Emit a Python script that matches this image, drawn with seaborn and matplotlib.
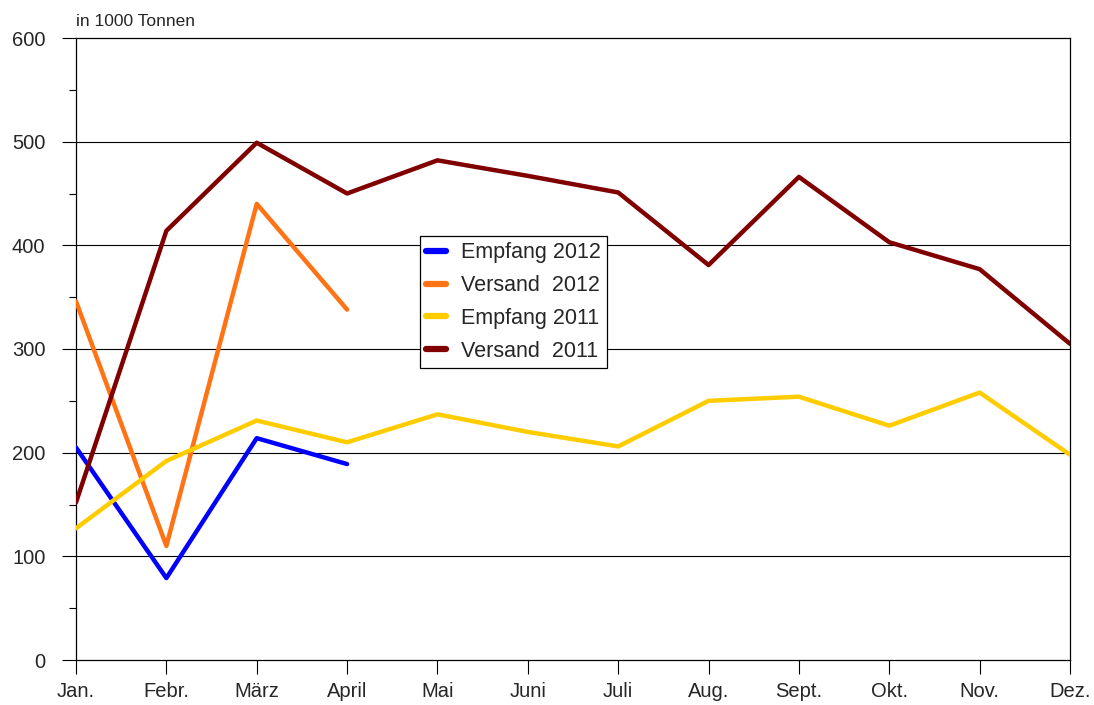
import matplotlib
matplotlib.use("Agg")
import matplotlib.pyplot as plt
import seaborn as sns
import pandas as pd
from matplotlib.ticker import MultipleLocator

months = ["Jan.", "Febr.", "März", "April", "Mai", "Juni", "Juli", "Aug.", "Sept.", "Okt.", "Nov.", "Dez."]
empfang_2012 = [205, 79, 214, 189]
versand_2012 = [346, 110, 440, 338]
empfang_2011 = [127, 192, 231, 210, 237, 220, 206, 250, 254, 226, 258, 198]
versand_2011 = [152, 414, 499, 450, 482, 467, 451, 381, 466, 403, 377, 305]

series_names = ["Empfang 2012", "Versand  2012", "Empfang 2011", "Versand  2011"]
series_vals = [empfang_2012, versand_2012, empfang_2011, versand_2011]
colors = ["#0000FF", "#FF7315", "#FFCC00", "#800000"]

rows = []
for name, vals in zip(series_names, series_vals):
    for i, v in enumerate(vals):
        rows.append({"Serie": name, "pos": i, "Wert": v})
df = pd.DataFrame(rows)

sns.set_style("white")
plt.rcParams["font.family"] = ["Liberation Sans", "DejaVu Sans"]

fig = plt.figure(figsize=(10.94, 7.05), dpi=100)
ax = fig.add_axes([76 / 1094, 45 / 705, 994 / 1094, 622 / 705])

for y in [100, 200, 300, 400, 500]:
    ax.axhline(y, color="black", lw=0.8, zorder=1)

sns.lineplot(data=df, x="pos", y="Wert", hue="Serie", hue_order=series_names,
             palette=colors, linewidth=3.2, ax=ax, legend=True, zorder=3)

ax.set_xlim(0, 11)
ax.set_ylim(0, 600)
ax.set_xticks(range(12))
ax.set_xticklabels(months)
ax.yaxis.set_major_locator(MultipleLocator(100))
ax.yaxis.set_minor_locator(MultipleLocator(50))
ax.set_xlabel("")
ax.set_ylabel("")
ax.tick_params(axis="both", which="major", direction="out", length=10, width=0.8,
               color="black", labelsize=14.5, left=True, bottom=True)
ax.tick_params(axis="y", which="minor", direction="out", length=5, width=0.8,
               color="black", left=True)
ax.tick_params(axis="x", pad=5.5)
ax.tick_params(axis="y", pad=12)
for s in ax.spines.values():
    s.set_color("black")
    s.set_linewidth(0.9)
    s.set_visible(True)

ax.text(0.0, 1.015, "in 1000 Tonnen", transform=ax.transAxes, fontsize=12.5,
        ha="left", va="bottom")

leg = ax.legend(loc="upper left", bbox_to_anchor=(0.346, 0.682), borderaxespad=0,
                frameon=True, fancybox=False, edgecolor="black", fontsize=15.5,
                handlelength=0.9, handletextpad=0.7, borderpad=0.3, labelspacing=0.55,
                framealpha=1)
leg.get_frame().set_linewidth(0.9)
for line in leg.get_lines():
    line.set_linewidth(4.5)

fig.savefig("out.png", dpi=100)
